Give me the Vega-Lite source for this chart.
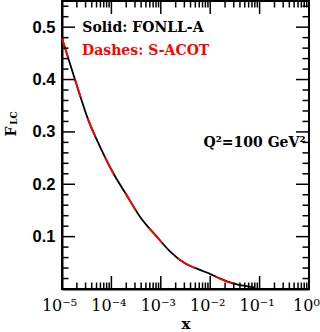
{
  "$schema": "https://vega.github.io/schema/vega-lite/v6.json",
  "width": 247,
  "height": 288,
  "autosize": "none",
  "padding": {"left": 62, "top": 1, "right": 11, "bottom": 43},
  "config": {
    "view": {"stroke": "black", "strokeWidth": 2},
    "axis": {"domainColor": "black", "domainWidth": 2, "tickColor": "black", "tickWidth": 1.5, "grid": false, "labelColor": "black", "titleColor": "black"}
  },
  "datasets": {
    "curves": [
      {"model": "FONLL-A", "x": 0.00001, "y": 0.479},
      {"model": "FONLL-A", "x": 0.0000183, "y": 0.400},
      {"model": "FONLL-A", "x": 0.000034, "y": 0.323},
      {"model": "FONLL-A", "x": 0.0000587, "y": 0.272},
      {"model": "FONLL-A", "x": 0.000108, "y": 0.222},
      {"model": "FONLL-A", "x": 0.000204, "y": 0.179},
      {"model": "FONLL-A", "x": 0.000379, "y": 0.138},
      {"model": "FONLL-A", "x": 0.000826, "y": 0.100},
      {"model": "FONLL-A", "x": 0.00153, "y": 0.072},
      {"model": "FONLL-A", "x": 0.00309, "y": 0.049},
      {"model": "FONLL-A", "x": 0.006, "y": 0.037},
      {"model": "FONLL-A", "x": 0.0099, "y": 0.029},
      {"model": "FONLL-A", "x": 0.015, "y": 0.021},
      {"model": "FONLL-A", "x": 0.0219, "y": 0.0145},
      {"model": "FONLL-A", "x": 0.033, "y": 0.0095},
      {"model": "FONLL-A", "x": 0.0506, "y": 0.0058},
      {"model": "FONLL-A", "x": 0.08, "y": 0.003},
      {"model": "S-ACOT", "x": 0.00001, "y": 0.479},
      {"model": "S-ACOT", "x": 0.0000183, "y": 0.400},
      {"model": "S-ACOT", "x": 0.000034, "y": 0.323},
      {"model": "S-ACOT", "x": 0.0000587, "y": 0.272},
      {"model": "S-ACOT", "x": 0.000108, "y": 0.222},
      {"model": "S-ACOT", "x": 0.000204, "y": 0.179},
      {"model": "S-ACOT", "x": 0.000379, "y": 0.138},
      {"model": "S-ACOT", "x": 0.000826, "y": 0.100},
      {"model": "S-ACOT", "x": 0.00153, "y": 0.072},
      {"model": "S-ACOT", "x": 0.00309, "y": 0.049},
      {"model": "S-ACOT", "x": 0.006, "y": 0.037},
      {"model": "S-ACOT", "x": 0.0099, "y": 0.029},
      {"model": "S-ACOT", "x": 0.015, "y": 0.0205},
      {"model": "S-ACOT", "x": 0.0219, "y": 0.0138},
      {"model": "S-ACOT", "x": 0.033, "y": 0.0088},
      {"model": "S-ACOT", "x": 0.0506, "y": 0.0052},
      {"model": "S-ACOT", "x": 0.075, "y": 0.003}
    ],
    "xticks": [
      {"v": 0.00001, "kind": "major"}, {"v": 0.00002, "kind": "minor"}, {"v": 0.00003, "kind": "minor"}, {"v": 0.00004, "kind": "minor"}, {"v": 0.00005, "kind": "minor"}, {"v": 0.00006, "kind": "minor"}, {"v": 0.00007, "kind": "minor"}, {"v": 0.00008, "kind": "minor"}, {"v": 0.00009, "kind": "minor"},
      {"v": 0.0001, "kind": "major"}, {"v": 0.0002, "kind": "minor"}, {"v": 0.0003, "kind": "minor"}, {"v": 0.0004, "kind": "minor"}, {"v": 0.0005, "kind": "minor"}, {"v": 0.0006, "kind": "minor"}, {"v": 0.0007, "kind": "minor"}, {"v": 0.0008, "kind": "minor"}, {"v": 0.0009, "kind": "minor"},
      {"v": 0.001, "kind": "major"}, {"v": 0.002, "kind": "minor"}, {"v": 0.003, "kind": "minor"}, {"v": 0.004, "kind": "minor"}, {"v": 0.005, "kind": "minor"}, {"v": 0.006, "kind": "minor"}, {"v": 0.007, "kind": "minor"}, {"v": 0.008, "kind": "minor"}, {"v": 0.009, "kind": "minor"},
      {"v": 0.01, "kind": "major"}, {"v": 0.02, "kind": "minor"}, {"v": 0.03, "kind": "minor"}, {"v": 0.04, "kind": "minor"}, {"v": 0.05, "kind": "minor"}, {"v": 0.06, "kind": "minor"}, {"v": 0.07, "kind": "minor"}, {"v": 0.08, "kind": "minor"}, {"v": 0.09, "kind": "minor"},
      {"v": 0.1, "kind": "major"}, {"v": 0.2, "kind": "minor"}, {"v": 0.3, "kind": "minor"}, {"v": 0.4, "kind": "minor"}, {"v": 0.5, "kind": "minor"}, {"v": 0.6, "kind": "minor"}, {"v": 0.7, "kind": "minor"}, {"v": 0.8, "kind": "minor"}, {"v": 0.9, "kind": "minor"},
      {"v": 1, "kind": "major"}
    ],
    "yticks": [
      {"v": 0.02, "kind": "minor"}, {"v": 0.04, "kind": "minor"}, {"v": 0.06, "kind": "minor"}, {"v": 0.08, "kind": "minor"}, {"v": 0.1, "kind": "major"},
      {"v": 0.12, "kind": "minor"}, {"v": 0.14, "kind": "minor"}, {"v": 0.16, "kind": "minor"}, {"v": 0.18, "kind": "minor"}, {"v": 0.2, "kind": "major"},
      {"v": 0.22, "kind": "minor"}, {"v": 0.24, "kind": "minor"}, {"v": 0.26, "kind": "minor"}, {"v": 0.28, "kind": "minor"}, {"v": 0.3, "kind": "major"},
      {"v": 0.32, "kind": "minor"}, {"v": 0.34, "kind": "minor"}, {"v": 0.36, "kind": "minor"}, {"v": 0.38, "kind": "minor"}, {"v": 0.4, "kind": "major"},
      {"v": 0.42, "kind": "minor"}, {"v": 0.44, "kind": "minor"}, {"v": 0.46, "kind": "minor"}, {"v": 0.48, "kind": "minor"}, {"v": 0.5, "kind": "major"},
      {"v": 0.52, "kind": "minor"}, {"v": 0.54, "kind": "minor"}
    ]
  },
  "layer": [
    {
      "data": {"name": "curves"},
      "transform": [{"filter": "datum.model === 'FONLL-A'"}],
      "mark": {"type": "line", "color": "black", "strokeWidth": 1.8, "interpolate": "monotone"},
      "encoding": {
        "x": {
          "field": "x", "type": "quantitative",
          "scale": {"type": "log", "domain": [0.00001, 1], "nice": false},
          "axis": {
            "orient": "bottom", "ticks": false, "tickSize": 0,
            "values": [0.00001, 0.0001, 0.001, 0.01, 0.1, 1],
            "labelExpr": "datum.value < 0.00005 ? '10⁻⁵' : datum.value < 0.0005 ? '10⁻⁴' : datum.value < 0.005 ? '10⁻³' : datum.value < 0.05 ? '10⁻²' : datum.value < 0.5 ? '10⁻¹' : '10⁰'",
            "labelFont": "DejaVu Serif", "labelFontSize": 16, "labelFontWeight": "normal",
            "labelBaseline": "alphabetic", "labelPadding": 21, "labelOffset": -3,
            "labelFlush": false, "labelOverlap": false, "labelBound": false,
            "title": "x", "titleFont": "DejaVu Serif", "titleFontSize": 15, "titleFontWeight": "bold",
            "titleBaseline": "alphabetic", "titleAlign": "center", "titleX": 123.5, "titleY": 39
          }
        },
        "y": {
          "field": "y", "type": "quantitative",
          "scale": {"domain": [0, 0.55], "nice": false, "zero": false},
          "axis": {
            "orient": "left", "ticks": false, "tickSize": 0,
            "values": [0.1, 0.2, 0.3, 0.4, 0.5],
            "format": ".1f",
            "labelFont": "Liberation Sans", "labelFontSize": 16.5, "labelFontWeight": "bold",
            "labelPadding": 7, "labelBaseline": "middle", "labelAlign": "right",
            "labelFlush": false, "labelOverlap": false, "labelBound": false,
            "title": "F", "titleFont": "DejaVu Serif", "titleFontSize": 14, "titleFontWeight": "bold",
            "titleAngle": -90, "titleX": -47, "titleY": 130, "titleAlign": "center", "titleBaseline": "alphabetic"
          }
        }
      }
    },
    {
      "data": {"name": "curves"},
      "transform": [{"filter": "datum.model === 'S-ACOT'"}],
      "mark": {"type": "line", "color": "#ff0000", "strokeWidth": 1.8, "strokeDash": [20, 22], "interpolate": "monotone"},
      "encoding": {
        "x": {
          "field": "x", "type": "quantitative",
          "scale": {"type": "log", "domain": [0.00001, 1], "nice": false},
          "axis": null
        },
        "y": {
          "field": "y", "type": "quantitative",
          "scale": {"domain": [0, 0.55], "nice": false, "zero": false},
          "axis": {
            "orient": "right", "offset": -247, "ticks": false, "domain": false, "labels": false,
            "values": [0.1, 0.2, 0.3, 0.4, 0.5],
            "title": "LC", "titleFont": "DejaVu Serif", "titleFontSize": 9, "titleFontWeight": "bold",
            "titleAngle": -90, "titleX": -46, "titleY": 116.5, "titleAlign": "center", "titleBaseline": "alphabetic"
          }
        }
      }
    },
    {
      "data": {"name": "xticks"},
      "mark": {"type": "tick", "orient": "vertical", "color": "black", "opacity": 1, "thickness": 1.5, "clip": true},
      "encoding": {
        "x": {"field": "v", "type": "quantitative", "scale": {"type": "log", "domain": [0.00001, 1], "nice": false}, "axis": null},
        "y": {"datum": 0, "type": "quantitative", "scale": {"domain": [0, 0.55], "nice": false, "zero": false}, "axis": null},
        "size": {"field": "kind", "type": "ordinal", "scale": {"domain": ["major", "minor"], "range": [26, 13]}, "legend": null}
      }
    },
    {
      "data": {"name": "xticks"},
      "mark": {"type": "tick", "orient": "vertical", "color": "black", "opacity": 1, "thickness": 1.5, "clip": true},
      "encoding": {
        "x": {"field": "v", "type": "quantitative", "scale": {"type": "log", "domain": [0.00001, 1], "nice": false}, "axis": null},
        "y": {"datum": 0.55, "type": "quantitative", "scale": {"domain": [0, 0.55], "nice": false, "zero": false}, "axis": null},
        "size": {"field": "kind", "type": "ordinal", "scale": {"domain": ["major", "minor"], "range": [26, 13]}, "legend": null}
      }
    },
    {
      "data": {"name": "yticks"},
      "mark": {"type": "tick", "orient": "horizontal", "color": "black", "opacity": 1, "thickness": 1.5, "clip": true},
      "encoding": {
        "y": {"field": "v", "type": "quantitative", "scale": {"domain": [0, 0.55], "nice": false, "zero": false}, "axis": null},
        "x": {"datum": 0.00001, "type": "quantitative", "scale": {"type": "log", "domain": [0.00001, 1], "nice": false}, "axis": null},
        "size": {"field": "kind", "type": "ordinal", "scale": {"domain": ["major", "minor"], "range": [26, 13]}, "legend": null}
      }
    },
    {
      "data": {"name": "yticks"},
      "mark": {"type": "tick", "orient": "horizontal", "color": "black", "opacity": 1, "thickness": 1.5, "clip": true},
      "encoding": {
        "y": {"field": "v", "type": "quantitative", "scale": {"domain": [0, 0.55], "nice": false, "zero": false}, "axis": null},
        "x": {"datum": 1, "type": "quantitative", "scale": {"type": "log", "domain": [0.00001, 1], "nice": false}, "axis": null},
        "size": {"field": "kind", "type": "ordinal", "scale": {"domain": ["major", "minor"], "range": [26, 13]}, "legend": null}
      }
    },
    {
      "data": {"values": [{"label": "Solid: FONLL-A", "x": 0.0000258, "y": 0.491}]},
      "mark": {"type": "text", "color": "black", "font": "DejaVu Serif", "fontSize": 14, "fontWeight": "bold", "align": "left", "baseline": "alphabetic"},
      "encoding": {
        "x": {"field": "x", "type": "quantitative", "scale": {"type": "log", "domain": [0.00001, 1], "nice": false}, "axis": null},
        "y": {"field": "y", "type": "quantitative", "scale": {"domain": [0, 0.55], "nice": false, "zero": false}, "axis": null},
        "text": {"field": "label"}
      }
    },
    {
      "data": {"values": [{"label": "Dashes: S-ACOT", "x": 0.0000255, "y": 0.447}]},
      "mark": {"type": "text", "color": "#ff0000", "font": "DejaVu Serif", "fontSize": 14, "fontWeight": "bold", "align": "left", "baseline": "alphabetic"},
      "encoding": {
        "x": {"field": "x", "type": "quantitative", "scale": {"type": "log", "domain": [0.00001, 1], "nice": false}, "axis": null},
        "y": {"field": "y", "type": "quantitative", "scale": {"domain": [0, 0.55], "nice": false, "zero": false}, "axis": null},
        "text": {"field": "label"}
      }
    },
    {
      "data": {"values": [{"label": "Q²=100 GeV²", "x": 0.85, "y": 0.2715}]},
      "mark": {"type": "text", "color": "black", "font": "DejaVu Serif", "fontSize": 14, "fontWeight": "bold", "align": "right", "baseline": "alphabetic"},
      "encoding": {
        "x": {"field": "x", "type": "quantitative", "scale": {"type": "log", "domain": [0.00001, 1], "nice": false}, "axis": null},
        "y": {"field": "y", "type": "quantitative", "scale": {"domain": [0, 0.55], "nice": false, "zero": false}, "axis": null},
        "text": {"field": "label"}
      }
    }
  ],
  "resolve": {"axis": {"x": "independent", "y": "independent"}}
}
